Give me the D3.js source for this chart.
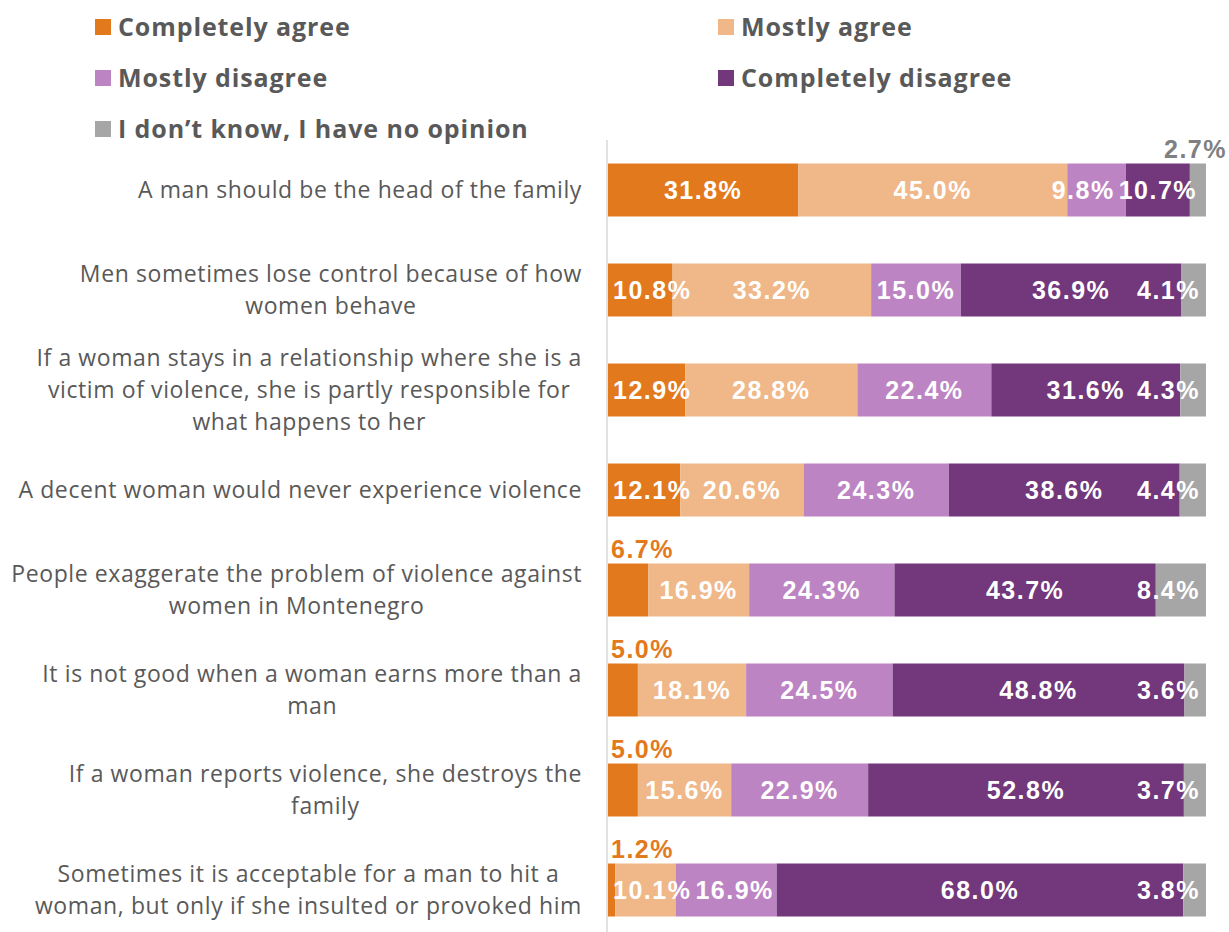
<!DOCTYPE html>
<html>
<head>
<meta charset="utf-8">
<script src="https://cdn.jsdelivr.net/npm/d3@7/dist/d3.min.js"></script>
<style>
  html, body { margin: 0; padding: 0; background: #fff; }
  svg { display: block; }
</style>
</head>
<body>
<script>
// Attitude statements (one bar each)
const categories = [
  ["A man should be the head of the family"],
  ["Men sometimes lose control because of how", "women behave"],
  ["If a woman stays in a relationship where she is a", "victim of violence, she is partly responsible for", "what happens to her"],
  ["A decent woman would never experience violence"],
  ["People exaggerate the problem of violence against", "women in Montenegro"],
  ["It is not good when a woman earns more than a", "man"],
  ["If a woman reports violence, she destroys the", "family"],
  ["Sometimes it is acceptable for a man to hit a", "woman, but only if she insulted or provoked him"]
];

const seriesNames = ["Completely agree", "Mostly agree", "Mostly disagree", "Completely disagree", "I don\u2019t know, I have no opinion"];

// Shares in percent per statement, one array per answer
const completelyAgree    = [31.8, 10.8, 12.9, 12.1, 6.7, 5.0, 5.0, 1.2];
const mostlyAgree        = [45.0, 33.2, 28.8, 20.6, 16.9, 18.1, 15.6, 10.1];
const mostlyDisagree     = [9.8, 15.0, 22.4, 24.3, 24.3, 24.5, 22.9, 16.9];
const completelyDisagree = [10.7, 36.9, 31.6, 38.6, 43.7, 48.8, 52.8, 68.0];
const dontKnow           = [2.7, 4.1, 4.3, 4.4, 8.4, 3.6, 3.7, 3.8];

const seriesValues = [completelyAgree, mostlyAgree, mostlyDisagree, completelyDisagree, dontKnow];
const colors = ["#E2791D", "#F0B788", "#BD84C4", "#72387B", "#A6A6A6"];

const W = 1229, H = 932;
const svg = d3.select("body").append("svg").attr("width", W).attr("height", H);

const x = d3.scaleLinear().domain([0, 100]).range([608, 1206]);
const y = d3.scaleBand().domain(d3.range(categories.length)).range([140, 940]).paddingInner(0.47).paddingOuter(0.235);

// stacked layout
const rows = categories.map((c, i) => {
  const o = { i };
  seriesNames.forEach((s, k) => o[k] = seriesValues[k][i]);
  return o;
});
const stacked = d3.stack().keys(d3.range(seriesNames.length))(rows);

// vertical axis line
svg.append("line")
  .attr("x1", 607).attr("x2", 607).attr("y1", 140).attr("y2", 932)
  .attr("stroke", "#D9D9D9").attr("stroke-width", 1.5);

const layers = svg.selectAll("g.layer").data(stacked).join("g").attr("class", "layer")
  .attr("fill", (d, k) => colors[k]);

layers.selectAll("rect").data(d => d).join("rect")
  .attr("x", d => x(d[0]))
  .attr("y", (d, i) => y(i))
  .attr("width", d => x(d[1]) - x(d[0]))
  .attr("height", y.bandwidth());

// value labels; kept inside the plot area horizontally
const labelFont = "'Liberation Sans', Arial, sans-serif";
const minX = 613, maxX = 1200, gap = 4;
categories.forEach((c, i) => {
  const inside = [];
  stacked.forEach((layer, k) => {
    const d = layer[i];
    const v = seriesValues[k][i];
    const t = svg.append("text")
      .attr("font-family", labelFont)
      .attr("font-weight", "bold")
      .attr("font-size", 25)
      .attr("letter-spacing", 1.5)
      .attr("text-anchor", "start")
      .text(v.toFixed(1) + "%");
    const tw = t.node().getComputedTextLength();
    const cx = (x(d[0]) + x(d[1])) / 2;
    if (k === 0 && v < 8) {
      // small "completely agree" share: label above the bar, left aligned
      t.attr("fill", colors[0]).attr("x", x(d[0]) + 3).attr("y", y(i) - 6);
    } else if (k === 4 && v < 3) {
      // small "don't know" share: label above its segment
      t.attr("fill", "#808080").attr("x", Math.min(cx - tw / 2, 1227 - tw)).attr("y", y(i) - 6);
    } else {
      const left = Math.max(minX, Math.min(cx - tw / 2, maxX - tw));
      t.attr("fill", "#fff").attr("y", y(i) + y.bandwidth() / 2 + 9);
      inside.push({ t, left, tw });
    }
  });
  // nudge neighbouring labels apart when they collide:
  // first push the left one leftwards, then the right one rightwards
  for (let j = inside.length - 1; j > 0; j--) {
    const a = inside[j - 1], b = inside[j];
    const overlap = a.left + a.tw + gap - b.left;
    if (overlap > 0) a.left = Math.max(minX, a.left - overlap);
  }
  for (let j = 1; j < inside.length; j++) {
    const a = inside[j - 1], b = inside[j];
    const overlap = a.left + a.tw + gap - b.left;
    if (overlap > 0) b.left = Math.min(maxX - b.tw, b.left + overlap);
  }
  inside.forEach(o => o.t.attr("x", o.left));
});

// category labels: lines centred on each other, block right-aligned
const catFont = "'Open Sans', sans-serif";
const lineH = 32;
categories.forEach((lines, i) => {
  const g = svg.append("g");
  const texts = lines.map((ln) => g.append("text")
    .attr("font-family", catFont).attr("font-size", 23).attr("letter-spacing", 0.6)
    .attr("fill", "#595959").attr("text-anchor", "middle").text(ln));
  const maxW = d3.max(texts, t => t.node().getComputedTextLength());
  const cx = 582 - maxW / 2;
  const cy = y(i) + y.bandwidth() / 2;
  const top = cy - (lines.length - 1) * lineH / 2;
  texts.forEach((t, j) => t.attr("x", cx).attr("y", top + j * lineH + 8));
});

// legend
const legendPos = [[95, 27], [718, 27], [95, 78], [718, 78], [95, 129]];
const legend = svg.selectAll("g.legend").data(seriesNames).join("g").attr("class", "legend")
  .attr("transform", (d, k) => `translate(${legendPos[k][0]},${legendPos[k][1]})`);
legend.append("rect").attr("x", 0).attr("y", -8).attr("width", 16).attr("height", 16)
  .attr("fill", (d, k) => colors[k]);
legend.append("text").attr("x", 23).attr("y", 9)
  .attr("font-family", catFont).attr("font-weight", "bold").attr("font-size", 25)
  .attr("letter-spacing", 0.9)
  .attr("fill", "#595959").text(d => d);
</script>
</body>
</html>
